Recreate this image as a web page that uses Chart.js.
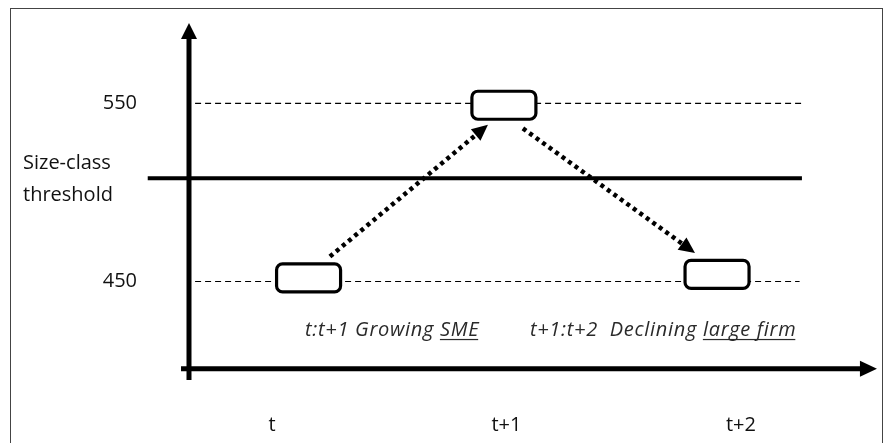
<!DOCTYPE html>
<html><head><meta charset="utf-8">
<script src="https://cdn.jsdelivr.net/npm/chart.js@4"></script>
<style>html,body{margin:0;padding:0;background:#fff}canvas{display:block}</style>
</head><body>
<canvas id="c" width="884" height="443"></canvas>
<script>
// ---- data ----
const periodLabels = ['t', 't+1', 't+2'];
const periodValues = [0, 1, 2];
const sizeTickValues = [550, 450];
const sizeTickLabels = ['550', '450'];
const thresholdValue = 508;
const thresholdLabel = ['Size-class', 'threshold'];
const firmPeriods = [0.156, 0.989, 1.898];
const firmSizes = [452, 549, 454];
const arrowFromX = [0.247, 1.070];
const arrowFromY = [464, 536];
const arrowToX = [0.921, 1.804];
const arrowToY = [538, 466];
const annotationTexts = [
  [['t:t+1 Growing ', false], ['SME', true]],
  [['t+1:t+2  Declining ', false], ['large firm', true]]
];

// ---- layout (styling/positions) ----
const X_MIN = -1.16, X_MAX = 2.61, Y_MIN = 359.3, Y_MAX = 608.1;
const yAxisAt = -0.354, xAxisAt = 401;
const yAxisFrom = 394.7, yAxisTo = 595.2;
const xAxisFrom = -0.388, xAxisTo = 2.58;
const thrFrom = -0.53, thrTo = 2.26;
const dashFrom = -0.328, dashTo = [2.273, 2.25];
const annotationX = [0.141, 1.100], annotationY = 422.8;

const lineDs = (pts, extra) => Object.assign({
  type: 'line', data: pts, showLine: true, pointRadius: 0, borderColor: '#000',
  backgroundColor: '#000', fill: false, tension: 0
}, extra);

const datasets = [
  lineDs([{x: thrFrom, y: thresholdValue}, {x: thrTo, y: thresholdValue}], {borderWidth: 4}),
  ...sizeTickValues.map((v, i) => lineDs([{x: dashFrom, y: v}, {x: dashTo[i], y: v}], {borderWidth: 1.2, borderDash: [6, 4]})),
  ...arrowFromX.map((fx, i) => {
    const tx = fx + (arrowToX[i] - fx) * 0.93, ty = arrowFromY[i] + (arrowToY[i] - arrowFromY[i]) * 0.93;
    return lineDs([{x: fx, y: arrowFromY[i]}, {x: tx, y: ty}], {borderWidth: 4.5, borderDash: [4, 4], borderCapStyle: 'butt'});
  })
];

function head(ctx, x1, y1, x2, y2, len, wid) {
  const a = Math.atan2(y2 - y1, x2 - x1);
  ctx.save(); ctx.translate(x2, y2); ctx.rotate(a);
  ctx.beginPath(); ctx.moveTo(0, 0); ctx.lineTo(-len, -wid / 2); ctx.lineTo(-len, wid / 2); ctx.closePath();
  ctx.fillStyle = '#000'; ctx.fill(); ctx.restore();
}
function rrect(ctx, x, y, w, h, r) {
  ctx.beginPath(); ctx.moveTo(x + r, y); ctx.lineTo(x + w - r, y); ctx.arcTo(x + w, y, x + w, y + r, r);
  ctx.lineTo(x + w, y + h - r); ctx.arcTo(x + w, y + h, x + w - r, y + h, r);
  ctx.lineTo(x + r, y + h); ctx.arcTo(x, y + h, x, y + h - r, r);
  ctx.lineTo(x, y + r); ctx.arcTo(x, y, x + r, y, r); ctx.closePath();
}

const diagram = {
  id: 'diagram',
  beforeDatasetsDraw(c) {
    const ctx = c.ctx, sx = c.scales.x, sy = c.scales.y;
    ctx.save();
    // frame
    ctx.strokeStyle = '#444'; ctx.lineWidth = 1;
    ctx.strokeRect(10.5, 8.5, 872, 450);
    // axes
    const ax = sx.getPixelForValue(yAxisAt), ay = sy.getPixelForValue(xAxisAt);
    const yTop = sy.getPixelForValue(yAxisTo), yBot = sy.getPixelForValue(yAxisFrom);
    const xL = sx.getPixelForValue(xAxisFrom), xR = sx.getPixelForValue(xAxisTo);
    ctx.strokeStyle = '#000'; ctx.lineWidth = 5; ctx.lineCap = 'butt';
    ctx.beginPath(); ctx.moveTo(ax, yBot); ctx.lineTo(ax, yTop + 12); ctx.stroke();
    ctx.beginPath(); ctx.moveTo(xL, ay); ctx.lineTo(xR - 12, ay); ctx.stroke();
    head(ctx, ax, yBot, ax, yTop, 16, 16);
    head(ctx, xL, ay, xR, ay, 17, 16);
    // tick labels
    ctx.fillStyle = '#111'; ctx.font = '20px "Open Sans"'; ctx.textBaseline = 'middle';
    ctx.textAlign = 'right';
    sizeTickValues.forEach((v, i) => ctx.fillText(sizeTickLabels[i], 137, sy.getPixelForValue(v)));
    ctx.textAlign = 'left';
    ctx.fillText(thresholdLabel[0], 23, 163);
    ctx.fillText(thresholdLabel[1], 23, 195);
    ctx.textAlign = 'center';
    periodValues.forEach((v, i) => ctx.fillText(periodLabels[i], sx.getPixelForValue(v), 425));
    // annotations
    ctx.font = 'italic 20px "Open Sans"'; ctx.textAlign = 'left'; ctx.fillStyle = '#2a2a2a';
    if ('letterSpacing' in ctx) ctx.letterSpacing = '0.7px';
    annotationTexts.forEach((parts, i) => {
      let x = sx.getPixelForValue(annotationX[i]); const y = sy.getPixelForValue(annotationY);
      parts.forEach(([t, u]) => {
        ctx.fillText(t, x, y);
        const w = ctx.measureText(t).width;
        if (u) { ctx.fillRect(x, y + 9, w - 1, 1.2); }
        x += w;
      });
    });
    ctx.restore();
  },
  afterDatasetsDraw(c) {
    const ctx = c.ctx, sx = c.scales.x, sy = c.scales.y;
    ctx.save();
    arrowFromX.forEach((fx, i) => {
      head(ctx, sx.getPixelForValue(fx), sy.getPixelForValue(arrowFromY[i]),
        sx.getPixelForValue(arrowToX[i]), sy.getPixelForValue(arrowToY[i]), 16, 15);
    });
    firmPeriods.forEach((p, i) => {
      const cx = sx.getPixelForValue(p), cy = sy.getPixelForValue(firmSizes[i]);
      rrect(ctx, cx - 32, cy - 14, 64, 28, 6);
      ctx.fillStyle = '#fff'; ctx.fill();
      ctx.strokeStyle = '#000'; ctx.lineWidth = 3.2; ctx.stroke();
    });
    ctx.restore();
  }
};

new Chart(document.getElementById('c'), {
  type: 'scatter',
  data: {datasets},
  options: {
    responsive: false, animation: false, devicePixelRatio: 1,
    layout: {padding: 0},
    plugins: {legend: {display: false}, tooltip: {enabled: false}},
    scales: {
      x: {type: 'linear', display: false, min: X_MIN, max: X_MAX},
      y: {type: 'linear', display: false, min: Y_MIN, max: Y_MAX}
    }
  },
  plugins: [diagram]
});
</script>
</body></html>
